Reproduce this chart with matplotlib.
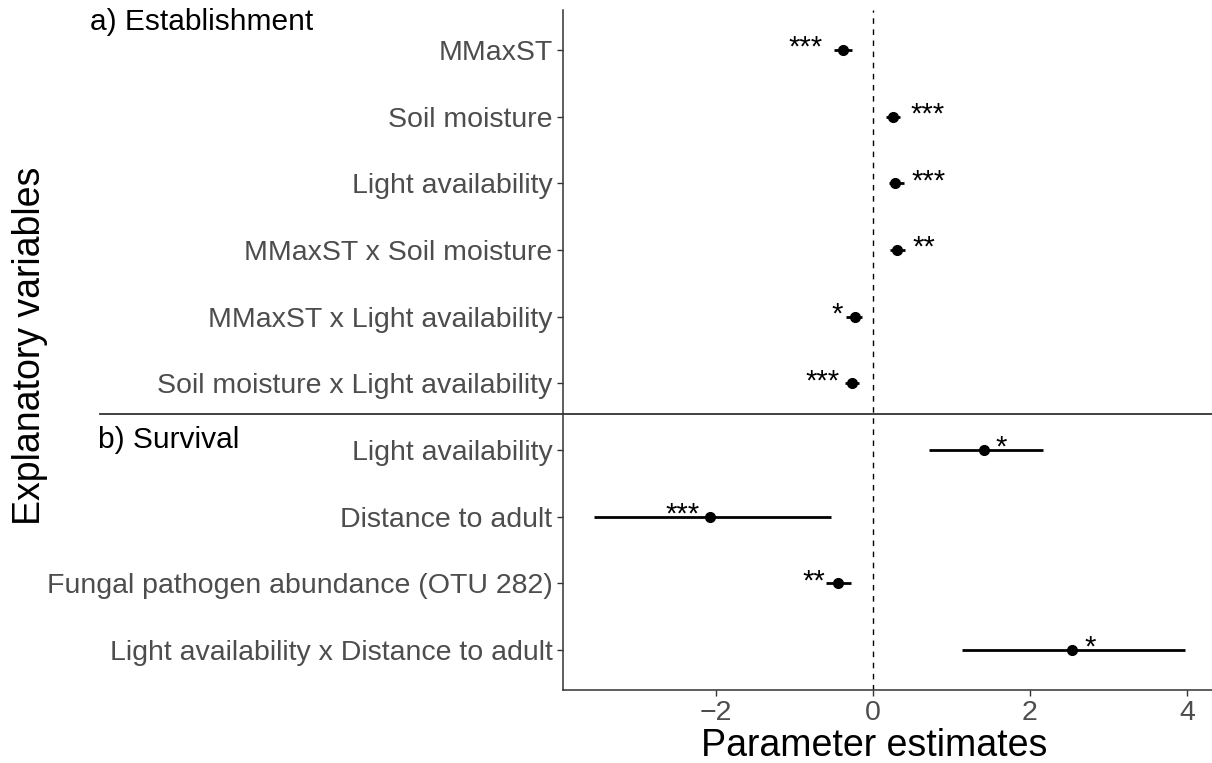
import matplotlib
matplotlib.use("Agg")
import matplotlib.pyplot as plt
import numpy as np

plt.rcParams['font.family'] = ['Liberation Sans', 'DejaVu Sans']

# Establishment model (top block) and survival model (bottom block)
variables = [
    "MMaxST",
    "Soil moisture",
    "Light availability",
    "MMaxST x Soil moisture",
    "MMaxST x Light availability",
    "Soil moisture x Light availability",
    "Light availability",
    "Distance to adult",
    "Fungal pathogen abundance (OTU 282)",
    "Light availability x Distance to adult",
]
estimates = [-0.38, 0.26, 0.28, 0.31, -0.23, -0.27, 1.42, -2.08, -0.45, 2.54]
lower = [-0.50, 0.17, 0.20, 0.22, -0.34, -0.36, 0.71, -3.56, -0.60, 1.14]
upper = [-0.27, 0.35, 0.39, 0.41, -0.14, -0.18, 2.17, -0.54, -0.28, 3.97]
stars = ["***", "***", "***", "**", "*", "***", "*", "***", "**", "*"]

# horizontal offset (points) of each star label from its estimate
star_dx = [-15, 12, 12, 11, -9, -9, 8, -7, -9, 9]

n = len(variables)
ypos = np.arange(n)[::-1]

fig = plt.figure(figsize=(12.12, 7.63), dpi=100)
ax = fig.add_axes([563 / 1212, 1 - 690 / 763, 649 / 1212, 680 / 763])

ax.axvline(0, color="black", lw=1.0, ls=(0, (4, 4)), zorder=1)
ax.hlines(ypos, lower, upper, color="black", lw=2.0, zorder=2)
ax.plot(estimates, ypos, "o", color="black", ms=7, zorder=3)

for est, y, s, dx in zip(estimates, ypos, stars, star_dx):
    ax.annotate(s, (est, y), xytext=(dx, 1.5), textcoords="offset points",
                ha="left" if dx > 0 else "right", va="center", fontsize=21)

ax.set_ylim(-0.6, n - 0.4)
ax.set_xlim(-3.95, 4.32)
ax.set_yticks(ypos)
ax.set_yticklabels(variables)
ax.set_xticks([-2, 0, 2, 4])
ax.set_xticklabels(["\u22122", "0", "2", "4"])
ax.tick_params(axis="both", labelsize=20.5, labelcolor="#4D4D4D", color="#333333",
               length=4, width=1)
for side in ["top", "right"]:
    ax.spines[side].set_visible(False)
for side in ["left", "bottom"]:
    ax.spines[side].set_color("#333333")
    ax.spines[side].set_linewidth(1.1)

fig.text(874 / 1212, 1 - 756 / 763, "Parameter estimates", fontsize=27,
         ha="center", va="baseline")
fig.text(30 / 1212, 1 - 346 / 763, "Explanatory variables", rotation=90, fontsize=27,
         ha="center", va="center")

# separator between the two models
sep_y = 1 - 414 / 763
fig.add_artist(plt.Line2D([100 / 1212, 1], [sep_y, sep_y], color="#333333", lw=1.3))

fig.text(90 / 1212, 1 - 22 / 763, "a) Establishment", fontsize=21.5, va="center")
fig.text(98 / 1212, 1 - 440 / 763, "b) Survival", fontsize=21.5, va="center")

fig.savefig("out.png", dpi=100)
